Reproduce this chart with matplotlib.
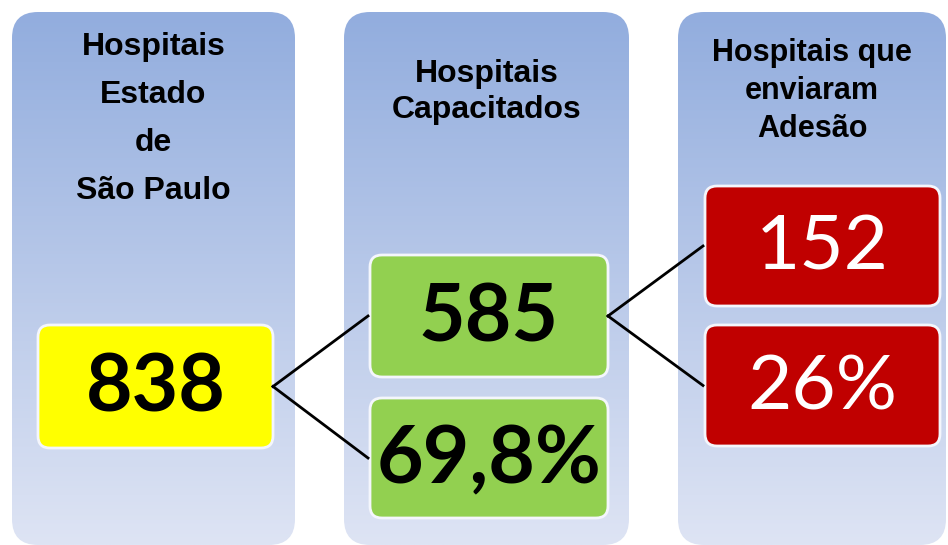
import numpy as np
import matplotlib
matplotlib.use("Agg")
import matplotlib.pyplot as plt
from matplotlib.patches import FancyBboxPatch

# data
titles = ["Hospitais\nEstado\nde\nSão Paulo", "Hospitais\nCapacitados", "Hospitais que\nenviaram\nAdesão"]
counts = [838, 585, 152]
shares = [None, 69.8, 26]

W, H = 948, 545
fig = plt.figure(figsize=(W / 100, H / 100), dpi=100)
ax = fig.add_axes([0, 0, 1, 1])
ax.set_axis_off()

# layout (pixels)
panel_x = [(12, 295), (344, 629), (678, 946)]
title_y = [119, 92, 91]
title_lsp = [1.78, 1.28, 1.33]
title_fs = [23, 23, 22]
box_x = [(38, 273), (370, 608), (705, 940)]
box_y = [[(325, 448)], [(255, 377), (398, 518)], [(186, 306), (325, 446)]]
box_fc = ["#ffff00", "#92d050", "#c00000"]
txt_c = ["black", "black", "white"]
txt_w = ["bold", "bold", "normal"]
num_fs = [58, 58, 55]

top_c = np.array([146, 173, 222]) / 255
bot_c = np.array([222, 228, 244]) / 255
grad = np.linspace(0, 1, 256)[:, None, None]
grad = top_c * (1 - grad) + bot_c * grad
grad = np.repeat(grad, 2, axis=1)

for i in range(3):
    x0, x1 = panel_x[i]
    p = FancyBboxPatch((x0, 12), x1 - x0, 533, boxstyle="round,pad=0,rounding_size=26",
                       fc="none", ec="none")
    ax.add_patch(p)
    im = ax.imshow(grad, extent=(x0, x1, 545, 12), aspect="auto", zorder=1)
    im.set_clip_path(p)
    ax.text((x0 + x1) / 2, title_y[i], titles[i], ha="center", va="center",
            fontsize=title_fs[i], fontweight="bold", family="Liberation Sans",
            linespacing=title_lsp[i], zorder=3)

    labels = [str(counts[i])]
    if shares[i] is not None:
        labels.append(f"{shares[i]:g}%".replace(".", ","))
    bx0, bx1 = box_x[i]
    for (by0, by1), lab in zip(box_y[i], labels):
        b = FancyBboxPatch((bx0, by0), bx1 - bx0, by1 - by0,
                           boxstyle="round,pad=0,rounding_size=12",
                           fc=box_fc[i], ec="#f4f6fc", lw=2, zorder=2)
        ax.add_patch(b)
        ax.text((bx0 + bx1) / 2, (by0 + by1) / 2 + 2, lab, ha="center", va="center",
                fontsize=num_fs[i], fontweight=txt_w[i], color=txt_c[i],
                family="Lato", zorder=3)

# connectors
for i in range(2):
    y_src = sum(box_y[i][0]) / 2
    x_src = box_x[i][1]
    x_dst = box_x[i + 1][0]
    for by0, by1 in box_y[i + 1]:
        ax.plot([x_src, x_dst - 2], [y_src, (by0 + by1) / 2], color="black", lw=2, zorder=4)

ax.set_xlim(0, W)
ax.set_ylim(H, 0)
fig.savefig("out.png", dpi=100, facecolor="white")
